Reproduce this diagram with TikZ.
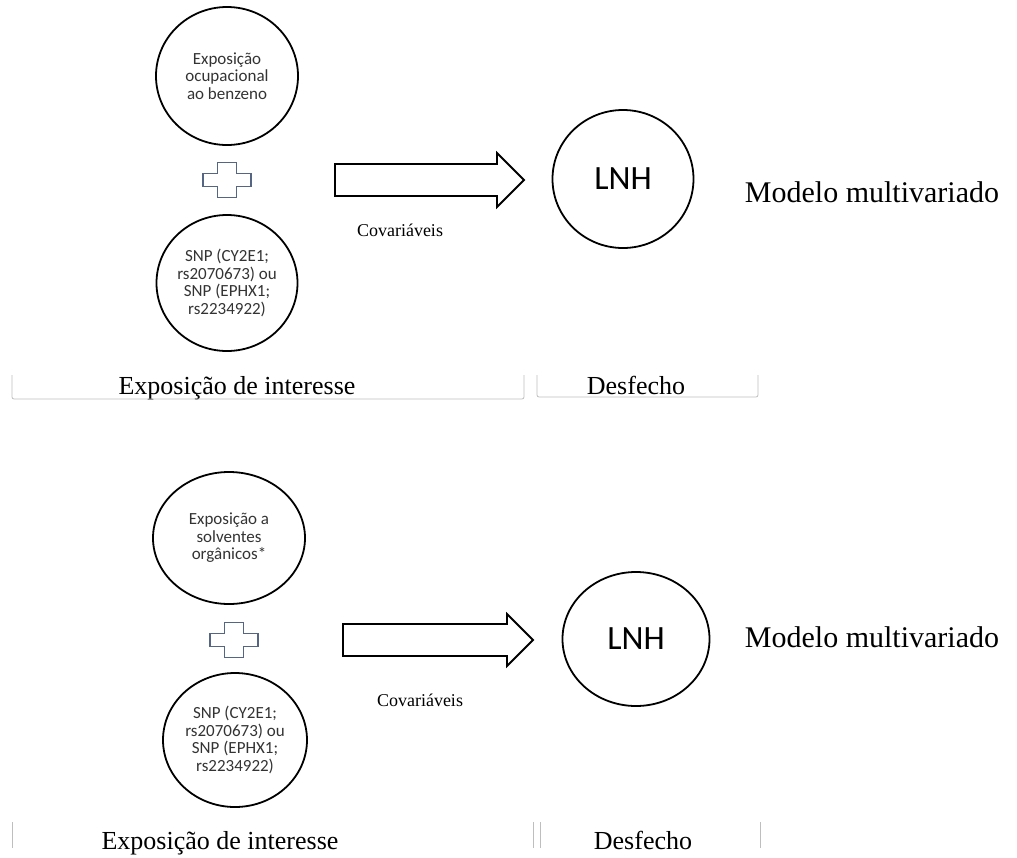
\documentclass[tikz,border=0pt]{standalone}
\usepackage{fontspec}
\setmainfont{Liberation Serif}
\newfontfamily\calibri{Carlito}
\usetikzlibrary{shapes.geometric}
\definecolor{plusblue}{RGB}{84,102,132}
\definecolor{brkgray}{RGB}{190,190,190}

\begin{document}
\begin{tikzpicture}[
  x=1pt, y=-1pt,
  bubble/.style={draw, ellipse, line width=1.8pt, inner sep=0pt,
                 align=center, text=black!80,
                 font=\calibri\fontsize{17}{17.5}\selectfont},
  outcome/.style={draw, ellipse, line width=1.8pt, inner sep=0pt,
                  font=\calibri\fontsize{34}{38}\selectfont},
  plusmark/.style={draw=plusblue, line width=1.4pt, fill=white},
  blockarrow/.style={draw, line width=1.8pt, fill=white},
  bracket/.style={draw=brkgray, line width=0.8pt, rounded corners=2pt},
  covar/.style={font=\fontsize{18}{20}\selectfont},
  group/.style={anchor=base, font=\fontsize{26}{28}\selectfont},
  model/.style={font=\fontsize{30}{32}\selectfont}
]
\useasboundingbox (0,0) rectangle (1017,857);

% top panel
\node[bubble, minimum width=142pt, minimum height=138pt] (expo1) at (227,76)
  {Exposição\\ocupacional\\ao benzeno};
\draw[plusmark, shift={(227,180)}] (-9.5,-17.5) -- (9.5,-17.5) -- (9.5,-6.5)
  -- (24,-6.5) -- (24,6.5) -- (9.5,6.5) -- (9.5,17.5) -- (-9.5,17.5)
  -- (-9.5,6.5) -- (-24,6.5) -- (-24,-6.5) -- (-9.5,-6.5) -- cycle;
\node[bubble, minimum width=141pt, minimum height=136pt] (snp1) at (227,283)
  {SNP (CY2E1;\\rs2070673) ou\\SNP (EPHX1;\\rs2234922)};
\draw[blockarrow] (335,164) -- (497,164) -- (497,153) -- (524,180)
  -- (497,207) -- (497,196) -- (335,196) -- cycle;
\node[covar] (cov1) at (400,230) {Covariáveis};
\node[outcome, minimum width=141pt, minimum height=138pt] (lnh1) at (623,179) {LNH};
\node[model] (mod1) at (872,192) {Modelo multivariado};
\node[group] (exp1) at (237,394) {Exposição de interesse};
\node[group] (des1) at (636,394) {Desfecho};
\draw[bracket] (12,375) -- (12,399) -- (524,399) -- (524,375);
\draw[bracket] (537,375) -- (537,397) -- (758,397) -- (758,375);

% bottom panel
\node[bubble, minimum width=152pt, minimum height=132pt] (expo2) at (229,538)
  {Exposição a\\solventes\\orgânicos*};
\draw[plusmark, shift={(234,640)}] (-9.5,-17.5) -- (9.5,-17.5) -- (9.5,-6.5)
  -- (24,-6.5) -- (24,6.5) -- (9.5,6.5) -- (9.5,17.5) -- (-9.5,17.5)
  -- (-9.5,6.5) -- (-24,6.5) -- (-24,-6.5) -- (-9.5,-6.5) -- cycle;
\node[bubble, minimum width=144pt, minimum height=134pt] (snp2) at (235,740)
  {SNP (CY2E1;\\rs2070673) ou\\SNP (EPHX1;\\rs2234922)};
\draw[blockarrow] (343,624) -- (507,624) -- (507,614) -- (533,640)
  -- (507,666) -- (507,656) -- (343,656) -- cycle;
\node[covar] (cov2) at (420,700) {Covariáveis};
\node[outcome, minimum width=147pt, minimum height=134pt] (lnh2) at (636,639) {LNH};
\node[model] (mod2) at (872,637) {Modelo multivariado};
\node[group] (exp2) at (220,849) {Exposição de interesse};
\node[group] (des2) at (643,849) {Desfecho};
\draw[bracket] (12,822) -- (12,848);
\draw[bracket] (533,822) -- (533,848);
\draw[bracket] (540,822) -- (540,848);
\draw[bracket] (760,822) -- (760,848);
\end{tikzpicture}
\end{document}
